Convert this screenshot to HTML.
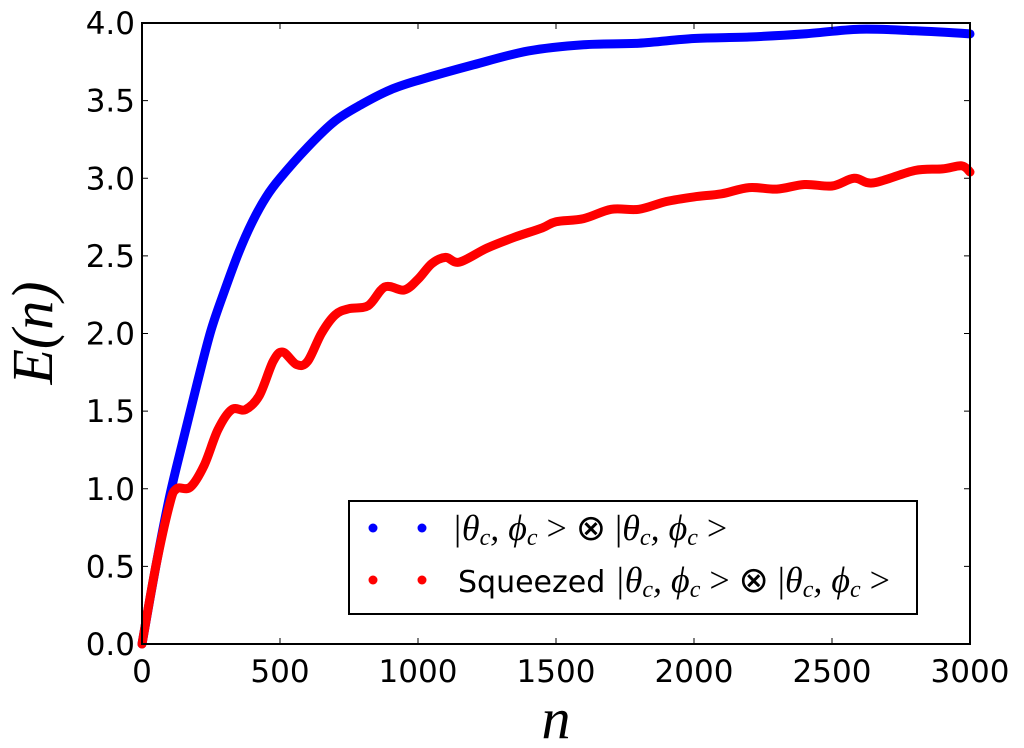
<!DOCTYPE html><html><head><meta charset="utf-8"><style>body{margin:0;background:#fff}svg{display:block}</style></head><body>
<svg id="c" width="1024" height="748" xmlns="http://www.w3.org/2000/svg"></svg>
<script>
const blueN=[0,50,100,150,200,250,300,350,400,450,500,600,700,800,900,1000,1200,1400,1600,1800,2000,2200,2400,2600,2800,3000];
const blueE=[0,0.5,0.95,1.32,1.68,2.02,2.28,2.52,2.72,2.88,3.0,3.2,3.37,3.48,3.57,3.63,3.73,3.82,3.86,3.87,3.9,3.91,3.93,3.96,3.95,3.93];
const redN=[0,50,100,125,175,225,275,325,375,425,475,510,560,600,650,700,750,820,880,950,1000,1050,1100,1150,1250,1350,1450,1500,1600,1700,1800,1900,2000,2100,2200,2300,2400,2500,2580,2650,2800,2900,2970,3000];
const redE=[0,0.5,0.9,1.0,1.01,1.15,1.38,1.51,1.51,1.6,1.82,1.88,1.8,1.82,2.0,2.12,2.16,2.18,2.3,2.28,2.35,2.45,2.49,2.46,2.55,2.62,2.68,2.72,2.74,2.8,2.8,2.85,2.88,2.9,2.94,2.93,2.96,2.95,3.0,2.97,3.05,3.06,3.08,3.04];
const xTicks=[0,500,1000,1500,2000,2500,3000];
const yTicks=[0,0.5,1,1.5,2,2.5,3,3.5,4];
const L=142,R=970,T=23,B=644;
const X=v=>L+(R-L)*v/3000, Y=v=>B-(B-T)*v/4;
const s=document.getElementById('c');const NS='http://www.w3.org/2000/svg';
function el(t,a,p){const e=document.createElementNS(NS,t);for(const k in a)e.setAttribute(k,a[k]);(p||s).appendChild(e);return e;}
function line(ns,es,col,name){const P=ns.map((n,i)=>[X(n),Y(es[i])]);
let d='M'+P[0][0]+' '+P[0][1];
for(let i=0;i<P.length-1;i++){const p0=P[Math.max(0,i-1)],p1=P[i],p2=P[i+1],p3=P[Math.min(P.length-1,i+2)];
const c1=[p1[0]+(p2[0]-p0[0])/6,p1[1]+(p2[1]-p0[1])/6],c2=[p2[0]-(p3[0]-p1[0])/6,p2[1]-(p3[1]-p1[1])/6];
d+='C'+c1[0].toFixed(1)+' '+c1[1].toFixed(1)+' '+c2[0].toFixed(1)+' '+c2[1].toFixed(1)+' '+p2[0].toFixed(1)+' '+p2[1].toFixed(1);}
const p=el('path',{d:d,fill:'none',stroke:col,'stroke-width':9,'stroke-linejoin':'round','stroke-linecap':'round'});

}
line(blueN,blueE,'#0000ff','blue-series');
line(redN,redE,'#ff0000','red-series');
xTicks.forEach(v=>{el('line',{x1:X(v),x2:X(v),y1:B,y2:B-6,stroke:'#000'});el('line',{x1:X(v),x2:X(v),y1:T,y2:T+6,stroke:'#000'});
const t=el('text',{x:X(v),y:B+38,'text-anchor':'middle','font-family':'DejaVu Sans,sans-serif','font-size':31});t.textContent=v;

});
yTicks.forEach(v=>{el('line',{x1:L,x2:L+6,y1:Y(v),y2:Y(v),stroke:'#000'});el('line',{x1:R,x2:R-6,y1:Y(v),y2:Y(v),stroke:'#000'});
const t=el('text',{x:L-7,y:Y(v)+11,'text-anchor':'end','font-family':'DejaVu Sans,sans-serif','font-size':31});t.textContent=v.toFixed(1);

});
el('rect',{x:L,y:T,width:R-L,height:B-T,fill:'none',stroke:'#000','stroke-width':2});
</script>
<svg width="1024" height="748" style="position:absolute;left:0;top:0" xmlns="http://www.w3.org/2000/svg">
<text x="556" y="738" text-anchor="middle" font-family="Liberation Serif,serif" font-style="italic" font-size="58">n</text>
<text transform="translate(52,333) rotate(-90)" text-anchor="middle" font-family="Liberation Serif,serif" font-style="italic" font-size="58">E(n)</text>
<g>
<rect x="349" y="501" width="568" height="113" fill="#fff" stroke="#000" stroke-width="2"/>
<circle cx="373" cy="528" r="4.5" fill="#0000ff"/><circle cx="422" cy="528" r="4.5" fill="#0000ff"/>
<circle cx="373" cy="580" r="4.5" fill="#ff0000"/><circle cx="422" cy="580" r="4.5" fill="#ff0000"/>
<text x="452" y="540" font-family="Liberation Serif,serif" font-style="italic" font-size="36">|θ<tspan font-size="24" dy="5">c</tspan><tspan dy="-5">, ϕ</tspan><tspan font-size="24" dy="5">c</tspan><tspan dy="-5" font-style="normal"> &gt; ⊗ |</tspan>θ<tspan font-size="24" dy="5">c</tspan><tspan dy="-5">, ϕ</tspan><tspan font-size="24" dy="5">c</tspan><tspan dy="-5" font-style="normal"> &gt;</tspan></text>
<text x="458" y="592" font-family="Liberation Serif,serif" font-style="italic" font-size="36"><tspan font-family="DejaVu Sans,sans-serif" font-style="normal" font-size="30">Squeezed </tspan>|θ<tspan font-size="24" dy="5">c</tspan><tspan dy="-5">, ϕ</tspan><tspan font-size="24" dy="5">c</tspan><tspan dy="-5" font-style="normal"> &gt; ⊗ |</tspan>θ<tspan font-size="24" dy="5">c</tspan><tspan dy="-5">, ϕ</tspan><tspan font-size="24" dy="5">c</tspan><tspan dy="-5" font-style="normal"> &gt;</tspan></text>
</g>
</svg>
</body></html>
